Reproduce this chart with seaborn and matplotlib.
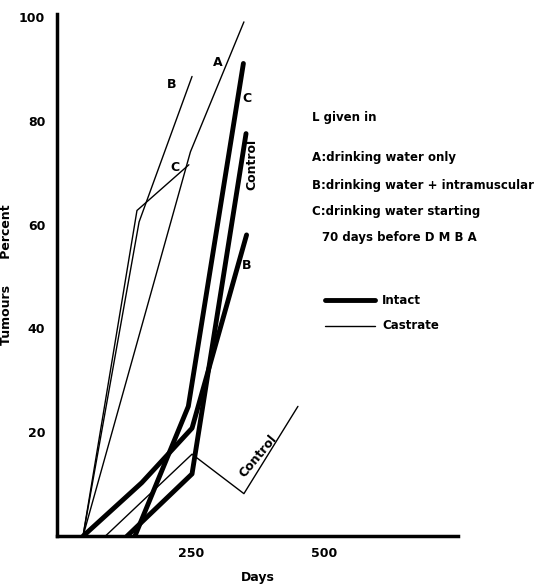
import matplotlib
matplotlib.use('Agg')
import matplotlib.pyplot as plt
import seaborn as sns
import pandas as pd

# castrate (thin) series
castrate_a_days = [45, 248, 349]
castrate_a_pct = [0, 74, 99]
castrate_b_days = [45, 151, 251]
castrate_b_pct = [0, 60.5, 88.5]
castrate_c_days = [45, 147, 245]
castrate_c_pct = [0, 62.7, 71.5]
castrate_ctl_days = [87, 251, 349, 451]
castrate_ctl_pct = [0, 15.8, 8.2, 25]

# intact (thick) series
intact_b_days = [45, 156, 251, 354]
intact_b_pct = [0, 10.3, 20.8, 58]
intact_c_days = [143, 244, 348]
intact_c_pct = [0, 25, 91]
intact_ctl_days = [128, 251, 353]
intact_ctl_pct = [0, 12, 77.5]

series = [
    ('castrate A', castrate_a_days, castrate_a_pct, 1.0),
    ('castrate B', castrate_b_days, castrate_b_pct, 1.0),
    ('castrate C', castrate_c_days, castrate_c_pct, 1.0),
    ('castrate control', castrate_ctl_days, castrate_ctl_pct, 1.0),
    ('intact B', intact_b_days, intact_b_pct, 3.5),
    ('intact C', intact_c_days, intact_c_pct, 3.5),
    ('intact control', intact_ctl_days, intact_ctl_pct, 3.5),
]

sns.set_style('white')
plt.rcParams['font.family'] = ['DejaVu Sans']
plt.rcParams['font.weight'] = 'bold'
plt.rcParams['text.color'] = 'black'

fig = plt.figure(figsize=(5.59, 5.88), dpi=100)
ax = fig.add_axes([0.102, 0.088, 0.717, 0.888])

for name, d, p, lw in series:
    df = pd.DataFrame({'days': d, 'pct': p})
    sns.lineplot(data=df, x='days', y='pct', ax=ax, color='black', lw=lw, sort=False)

ax.set_xlim(-4, 753)
ax.set_ylim(0, 100.5)
ax.set_xticks([250, 500, 753])
ax.set_xticklabels(['250', '500', ''])
ax.set_yticks([20, 40, 60, 80, 100])
ax.tick_params(axis='x', direction='in', length=5, width=1.5, labelsize=9, pad=8, colors='black')
ax.tick_params(axis='y', direction='out', length=5, width=1.5, labelsize=9, colors='black')
for s in ['top', 'right']:
    ax.spines[s].set_visible(False)
for s in ['left', 'bottom']:
    ax.spines[s].set_linewidth(2.5)
    ax.spines[s].set_color('black')
ax.set_xlabel('Days', fontsize=9, labelpad=8, fontweight='bold', color='black')
ax.set_ylabel('Tumours      Percent', fontsize=9, labelpad=4, fontweight='bold', color='black')

def dtext(px, py, s, **kw):
    ax.text((px - 59.3) / 0.5292, (536 - py) / 5.25, s, ha='center', va='center',
            fontsize=9, **kw)

dtext(218, 57, 'A')
dtext(172, 80, 'B')
dtext(175, 163, 'C')
dtext(247, 94, 'C')
dtext(252, 160, 'Control', rotation=90)
dtext(247, 262, 'B')
dtext(258, 455, 'Control', rotation=50)

def ftext(px, py, s, **kw):
    fig.text(px / 559, 1 - py / 588, s, ha='left', va='center', fontsize=8.5, **kw)

ftext(312, 118, 'L given in')
ftext(312, 157, 'A:drinking water only')
ftext(312, 185, 'B:drinking water + intramuscular')
ftext(312, 211, 'C:drinking water starting')
ftext(322, 238, '70 days before D M B A')
fig.add_artist(plt.Line2D([325 / 559, 375 / 559], [1 - 300 / 588] * 2, color='black', lw=3.5))
fig.add_artist(plt.Line2D([325 / 559, 375 / 559], [1 - 326 / 588] * 2, color='black', lw=1))
ftext(382, 300, 'Intact')
ftext(382, 326, 'Castrate')

fig.savefig('out.png', dpi=100)
